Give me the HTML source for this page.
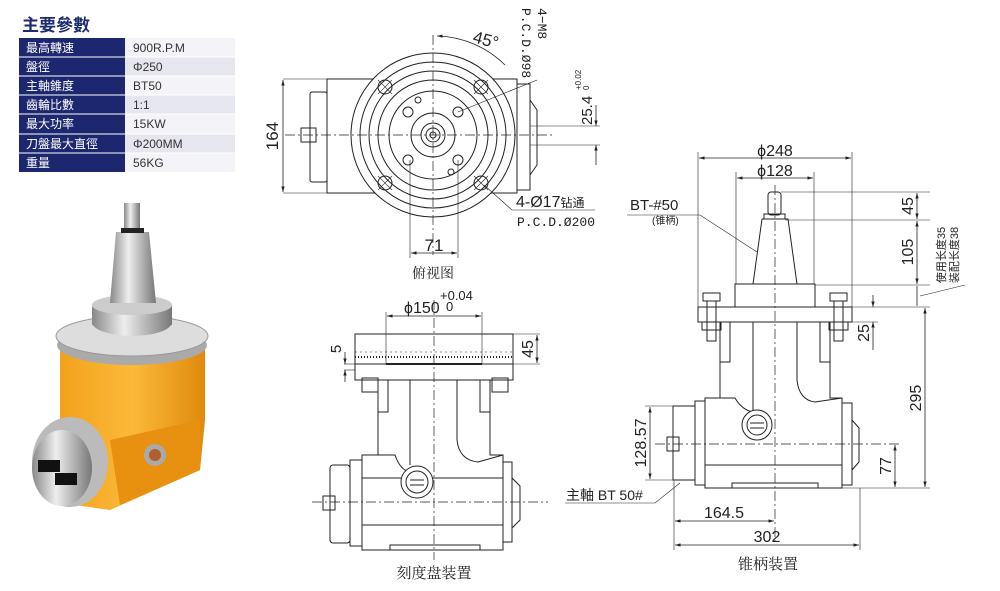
<!DOCTYPE html>
<html><head><meta charset="utf-8"><style>
body{margin:0;background:#fff;width:1000px;height:591px;overflow:hidden;font-family:"Liberation Sans","Noto Sans CJK SC",sans-serif}
svg{position:absolute;left:0;top:0}
</style></head><body>
<svg width="1000" height="591" viewBox="0 0 1000 591" font-family="Liberation Sans, Noto Sans CJK SC, sans-serif">
<defs>
<marker id="a" viewBox="0 0 10 10" refX="10" refY="5" markerWidth="7" markerHeight="7" orient="auto-start-reverse"><path d="M0,2 L10,5 L0,8 z" fill="#222"/></marker>
<linearGradient id="og" x1="0" x2="1"><stop offset="0" stop-color="#f2a21a"/><stop offset="0.5" stop-color="#fbb93a"/><stop offset="1" stop-color="#e08a0c"/></linearGradient>
<linearGradient id="sg" x1="0" x2="1"><stop offset="0" stop-color="#888"/><stop offset="0.4" stop-color="#eee"/><stop offset="1" stop-color="#777"/></linearGradient>
</defs>

<!-- table -->
<text x="22" y="31" font-size="17" fill="#1c2a6e" font-weight="bold">主要參數</text>
<g font-size="12">
<rect x="19" y="38" width="106" height="134" fill="#1d2770"/>
<rect x="125" y="38" width="110" height="134" fill="#f4f4f8"/>
<g fill="#e6e6ef"><rect x="125" y="57" width="110" height="19"/><rect x="125" y="95" width="110" height="19"/><rect x="125" y="134" width="110" height="19"/></g>
<g stroke="#fff" stroke-width="1"><line x1="19" y1="57" x2="235" y2="57"/><line x1="19" y1="76" x2="235" y2="76"/><line x1="19" y1="95" x2="235" y2="95"/><line x1="19" y1="114" x2="235" y2="114"/><line x1="19" y1="134" x2="235" y2="134"/><line x1="19" y1="153" x2="235" y2="153"/></g>
<g fill="#fff"><text x="26" y="52">最高轉速</text><text x="26" y="71">盤徑</text><text x="26" y="90">主軸錐度</text><text x="26" y="109">齒輪比數</text><text x="26" y="128">最大功率</text><text x="26" y="148">刀盤最大直徑</text><text x="26" y="167">重量</text></g>
<g fill="#333"><text x="133" y="52">900R.P.M</text><text x="133" y="71">Φ250</text><text x="133" y="90">BT50</text><text x="133" y="109">1:1</text><text x="133" y="128">15KW</text><text x="133" y="148">Φ200MM</text><text x="133" y="167">56KG</text></g>
</g>

<!-- photo -->
<g>
<path d="M60,345 L205,345 L205,420 L200,470 L110,510 L75,505 L60,440 Z" fill="url(#og)"/>
<path d="M110,440 L200,420 L200,470 L120,505 Z" fill="#e8900f"/>
<ellipse cx="155" cy="455" rx="11" ry="11" fill="#aaa"/><ellipse cx="155" cy="455" rx="6" ry="6" fill="#b0602a"/>
<ellipse cx="70" cy="462" rx="38" ry="45" fill="#bbb"/>
<ellipse cx="62" cy="468" rx="30" ry="38" fill="url(#sg)"/>
<rect x="38" y="460" width="22" height="12" fill="#111"/><rect x="55" y="473" width="22" height="12" fill="#111"/>
<ellipse cx="132" cy="345" rx="75" ry="20" fill="#aaa"/>
<ellipse cx="132" cy="336" rx="76" ry="20" fill="#ddd" stroke="#999"/>
<ellipse cx="132" cy="322" rx="40" ry="14" fill="url(#sg)"/>
<rect x="92" y="305" width="80" height="20" fill="url(#sg)"/>
<ellipse cx="132" cy="305" rx="40" ry="10" fill="#ccc"/>
<path d="M116,232 L149,232 L156,303 L110,303 Z" fill="url(#sg)"/>
<rect x="124" y="203" width="16" height="28" fill="url(#sg)"/>
<rect x="121" y="228" width="23" height="5" fill="#222"/>
</g>

<g stroke="#222" stroke-width="1" fill="none">
<!-- top view -->
<rect x="327" y="79" width="190" height="114"/>
<rect x="310" y="92" width="17" height="90" rx="2"/>
<rect x="301" y="128" width="15" height="14"/>
<path d="M517,84 L530,84 L530,190 L517,190"/>
<path d="M530,100 L537,110 L537,165 L530,175"/>
<circle cx="433" cy="135" r="82" fill="#fff"/>
<circle cx="433" cy="135" r="73"/><circle cx="433" cy="135" r="64"/><circle cx="433" cy="135" r="55"/><circle cx="433" cy="135" r="44"/>
<circle cx="433" cy="135" r="22"/><circle cx="433" cy="135" r="12"/><circle cx="433" cy="135" r="7"/><circle cx="433" cy="135" r="3"/>
<g><circle cx="385" cy="87" r="7"/><circle cx="481" cy="87" r="7"/><circle cx="385" cy="183" r="7"/><circle cx="481" cy="183" r="7"/>
<circle cx="408" cy="112" r="5"/><circle cx="458" cy="112" r="5"/><circle cx="408" cy="160" r="5"/><circle cx="458" cy="160" r="5"/>
<circle cx="418" cy="100" r="3"/><circle cx="451" cy="172" r="3"/></g>
<g stroke-width="0.6"><path d="M378,80 L392,94 M392,80 L378,94 M474,80 L488,94 M488,80 L474,94 M378,176 L392,190 M392,176 L378,190 M474,176 L488,190 M488,176 L474,190"/></g>
<g stroke-dasharray="10,3,2,3" stroke-width="0.7"><line x1="285" y1="135" x2="552" y2="135"/><line x1="433" y1="35" x2="433" y2="255"/></g>
<line x1="283" y1="79" x2="327" y2="79" stroke-width="0.6"/><line x1="283" y1="193" x2="327" y2="193" stroke-width="0.6"/>
<line x1="283" y1="80" x2="283" y2="192" marker-start="url(#a)" marker-end="url(#a)" stroke-width="0.8"/>
<line x1="410" y1="160" x2="410" y2="258" stroke-width="0.6"/><line x1="458" y1="160" x2="458" y2="258" stroke-width="0.6"/>
<line x1="411" y1="253" x2="457" y2="253" marker-start="url(#a)" marker-end="url(#a)" stroke-width="0.8"/>
<path d="M437,36 A100,100 0 0 1 505,65" marker-start="url(#a)" stroke-width="0.8"/>
<line x1="458" y1="112" x2="537" y2="80" stroke-width="0.6"/>
<path d="M484,185 L512,210 L595,210" stroke-width="0.6"/>
<line x1="530" y1="126" x2="600" y2="126" stroke-width="0.6"/><line x1="530" y1="145" x2="600" y2="145" stroke-width="0.6"/>
<line x1="596" y1="105" x2="596" y2="126" marker-end="url(#a)" stroke-width="0.8"/><line x1="596" y1="165" x2="596" y2="145" marker-end="url(#a)" stroke-width="0.8"/>
</g>
<g fill="#222">
<text x="278" y="136" font-size="17" transform="rotate(-90 278 136)" text-anchor="middle">164</text>
<text x="434" y="251" font-size="17" text-anchor="middle">71</text>
<text x="472" y="42" font-size="17" transform="rotate(15 472 42)">45°</text>
<text x="522" y="8" font-size="13" transform="rotate(90 522 8)" font-family="Liberation Mono, monospace">P.C.D.Ø98</text>
<text x="538" y="8" font-size="13" transform="rotate(90 538 8)" font-family="Liberation Mono, monospace">4−M8</text>
<text x="592" y="125" font-size="15" transform="rotate(-90 592 125)">25.4</text>
<text x="581" y="90" font-size="8" transform="rotate(-90 581 90)">+0.02</text>
<text x="589" y="90" font-size="8" transform="rotate(-90 589 90)">0</text>
<text x="516" y="207" font-size="16">4-Ø17<tspan font-size="12">钻通</tspan></text>
<text x="517" y="226" font-size="13" font-family="Liberation Mono, monospace">P.C.D.Ø200</text>
<text x="433" y="278" font-size="14" text-anchor="middle" font-family="Liberation Serif, Noto Serif CJK SC, serif">俯视图</text>
</g>

<!-- middle bottom -->
<g stroke="#222" stroke-width="1" fill="none">
<rect x="355" y="334" width="158" height="46" fill="#fff"/>
<line x1="355" y1="364" x2="513" y2="364"/>
<line x1="386" y1="364" x2="482" y2="364" stroke-width="2"/>
<line x1="355" y1="352" x2="513" y2="352" stroke-dasharray="2,3" stroke-width="0.6"/>
<path d="M355,357 L513,357" stroke-dasharray="1,2" stroke-width="2"/>
<rect x="362" y="378" width="16" height="14"/><rect x="492" y="378" width="16" height="14"/>
<path d="M378,380 L378,455 L362,455 L362,550 L503,550 L503,455 L490,455 L490,380"/>
<rect x="378" y="380" width="10" height="32"/><rect x="480" y="380" width="10" height="32"/>
<path d="M410,380 L410,465 M457,380 L457,440 Q459,460 478,462 L503,455"/>
<path d="M378,455 L395,455 Q400,470 410,472"/>
<line x1="362" y1="478" x2="503" y2="478"/><line x1="362" y1="525" x2="503" y2="525"/>
<rect x="350" y="460" width="12" height="86"/><rect x="330" y="465" width="20" height="78" rx="3"/>
<rect x="323" y="496" width="12" height="14"/>
<path d="M503,462 L512,462 L512,542 L503,542 M512,478 L520,486 L520,520 L512,528"/>
<rect x="390" y="545" width="90" height="5"/>
<circle cx="417" cy="482" r="16" fill="#fff"/><circle cx="417" cy="482" r="11"/>
<line x1="410" y1="480" x2="424" y2="480"/><line x1="410" y1="485" x2="424" y2="485"/>
<g stroke-dasharray="10,3,2,3" stroke-width="0.7"><line x1="312" y1="502" x2="548" y2="502"/><line x1="434" y1="300" x2="434" y2="560"/></g>
<line x1="386" y1="312" x2="386" y2="364" stroke-width="0.6"/><line x1="482" y1="312" x2="482" y2="364" stroke-width="0.6"/>
<line x1="387" y1="316" x2="481" y2="316" marker-start="url(#a)" marker-end="url(#a)" stroke-width="0.8"/>
<line x1="513" y1="334" x2="540" y2="334" stroke-width="0.6"/><line x1="513" y1="364" x2="540" y2="364" stroke-width="0.6"/>
<line x1="537" y1="335" x2="537" y2="363" marker-start="url(#a)" marker-end="url(#a)" stroke-width="0.8"/>
<line x1="344" y1="364" x2="355" y2="364" stroke-width="0.6"/><line x1="344" y1="370" x2="355" y2="370" stroke-width="0.6"/>
<line x1="345" y1="352" x2="345" y2="364" marker-end="url(#a)" stroke-width="0.8"/><line x1="345" y1="382" x2="345" y2="370" marker-end="url(#a)" stroke-width="0.8"/>
</g>
<g fill="#222">
<text x="404" y="313" font-size="16">ϕ150</text>
<text x="440" y="300" font-size="13">+0.04</text><text x="446" y="311" font-size="13">0</text>
<text x="533" y="349" font-size="16" transform="rotate(-90 533 349)" text-anchor="middle">45</text>
<text x="341" y="349" font-size="15" transform="rotate(-90 341 349)" text-anchor="middle">5</text>
<text x="434" y="578" font-size="15" text-anchor="middle" font-family="Liberation Serif, Noto Serif CJK SC, serif">刻度盘装置</text>
</g>

<!-- right drawing -->
<g stroke="#222" stroke-width="1" fill="none">
<rect x="768" y="192" width="13" height="23" rx="3"/>
<rect x="764" y="214" width="21" height="5"/>
<path d="M762,219 L788,219 L797,284 L753,284 Z"/>
<rect x="735" y="284" width="80" height="23"/>
<rect x="698" y="307" width="154" height="15"/>
<line x1="735" y1="307" x2="815" y2="307"/>
<rect x="703" y="293" width="17" height="8"/><rect x="707" y="301" width="9" height="40"/><rect x="702" y="322" width="19" height="8"/>
<rect x="830" y="293" width="17" height="8"/><rect x="834" y="301" width="9" height="40"/><rect x="829" y="322" width="19" height="8"/>
<path d="M720,322 L720,398 L705,398 L705,488 L842,488 L842,398 L830,398 L830,322"/>
<rect x="720" y="322" width="10" height="40"/><rect x="820" y="322" width="10" height="40"/>
<path d="M753,322 L753,412 M797,322 L797,380 Q799,400 815,402 L842,398 M720,398 L735,398 Q742,410 753,412"/>
<line x1="705" y1="465" x2="842" y2="465"/>
<rect x="695" y="401" width="10" height="84"/><rect x="673" y="406" width="22" height="74"/>
<rect x="667" y="437" width="12" height="14"/>
<path d="M842,403 L852,403 L852,485 L842,485 M852,420 L859,428 L859,462 L852,470"/>
<rect x="732" y="483" width="86" height="5"/>
<circle cx="757" cy="425" r="15" fill="#fff"/><circle cx="757" cy="425" r="10"/>
<line x1="750" y1="423" x2="764" y2="423"/><line x1="750" y1="428" x2="764" y2="428"/>
<g stroke-dasharray="10,3,2,3" stroke-width="0.7"><line x1="655" y1="444" x2="900" y2="444"/><line x1="775" y1="185" x2="775" y2="545"/></g>
<!-- dims -->
<line x1="698" y1="152" x2="698" y2="307" stroke-width="0.6"/><line x1="852" y1="152" x2="852" y2="307" stroke-width="0.6"/>
<line x1="699" y1="158" x2="851" y2="158" marker-start="url(#a)" marker-end="url(#a)" stroke-width="0.8"/>
<line x1="736" y1="172" x2="736" y2="284" stroke-width="0.6"/><line x1="814" y1="172" x2="814" y2="284" stroke-width="0.6"/>
<line x1="737" y1="178" x2="813" y2="178" marker-start="url(#a)" marker-end="url(#a)" stroke-width="0.8"/>
<line x1="781" y1="192" x2="930" y2="192" stroke-width="0.6"/><line x1="785" y1="220" x2="930" y2="220" stroke-width="0.6"/>
<line x1="815" y1="285" x2="930" y2="285" stroke-width="0.6"/><line x1="852" y1="307" x2="930" y2="307" stroke-width="0.6"/>
<line x1="917" y1="193" x2="917" y2="219" marker-start="url(#a)" marker-end="url(#a)" stroke-width="0.8"/>
<line x1="917" y1="221" x2="917" y2="284" marker-start="url(#a)" marker-end="url(#a)" stroke-width="0.8"/>
<line x1="917" y1="286" x2="917" y2="306" stroke-width="0.8"/>
<line x1="925" y1="308" x2="925" y2="487" marker-start="url(#a)" marker-end="url(#a)" stroke-width="0.8"/>
<line x1="842" y1="488" x2="930" y2="488" stroke-width="0.6"/>
<line x1="852" y1="322" x2="878" y2="322" stroke-width="0.6"/>
<line x1="873" y1="295" x2="873" y2="307" marker-end="url(#a)" stroke-width="0.8"/><line x1="873" y1="350" x2="873" y2="322" marker-end="url(#a)" stroke-width="0.8"/>
<line x1="895" y1="445" x2="895" y2="487" marker-start="url(#a)" marker-end="url(#a)" stroke-width="0.8"/>
<line x1="645" y1="406" x2="673" y2="406" stroke-width="0.6"/><line x1="645" y1="480" x2="673" y2="480" stroke-width="0.6"/>
<line x1="650" y1="407" x2="650" y2="479" marker-start="url(#a)" marker-end="url(#a)" stroke-width="0.8"/>
<line x1="674" y1="480" x2="674" y2="550" stroke-width="0.6"/><line x1="860" y1="488" x2="860" y2="550" stroke-width="0.6"/>
<line x1="675" y1="521" x2="774" y2="521" marker-start="url(#a)" marker-end="url(#a)" stroke-width="0.8"/>
<line x1="675" y1="545" x2="859" y2="545" marker-start="url(#a)" marker-end="url(#a)" stroke-width="0.8"/>
<path d="M627,215 L700,215 L757,252" stroke-width="0.6"/>
<path d="M565,503 L655,503 L680,483" stroke-width="0.6"/>
<line x1="920" y1="296" x2="965" y2="285" stroke-width="0.6"/>
</g>
<g fill="#222">
<text x="775" y="156" font-size="16" text-anchor="middle">ϕ248</text>
<text x="775" y="176" font-size="16" text-anchor="middle">ϕ128</text>
<text x="630" y="210" font-size="15">BT-#50</text>
<text x="652" y="224" font-size="10">(锥柄)</text>
<text x="913" y="206" font-size="16" transform="rotate(-90 913 206)" text-anchor="middle">45</text>
<text x="913" y="252" font-size="16" transform="rotate(-90 913 252)" text-anchor="middle">105</text>
<text x="921" y="398" font-size="16" transform="rotate(-90 921 398)" text-anchor="middle">295</text>
<text x="869" y="333" font-size="16" transform="rotate(-90 869 333)" text-anchor="middle">25</text>
<text x="891" y="466" font-size="16" transform="rotate(-90 891 466)" text-anchor="middle">77</text>
<text x="646" y="443" font-size="16" transform="rotate(-90 646 443)" text-anchor="middle">128.57</text>
<text x="945" y="255" font-size="11" transform="rotate(-90 945 255)" text-anchor="middle">使用长度35</text>
<text x="958" y="255" font-size="11" transform="rotate(-90 958 255)" text-anchor="middle">装配长度38</text>
<text x="724" y="518" font-size="16" text-anchor="middle">164.5</text>
<text x="767" y="542" font-size="16" text-anchor="middle">302</text>
<text x="566" y="500" font-size="14">主軸 BT 50#</text>
<text x="768" y="569" font-size="15" text-anchor="middle" font-family="Liberation Serif, Noto Serif CJK SC, serif">锥柄装置</text>
</g>
</svg>
</body></html>
